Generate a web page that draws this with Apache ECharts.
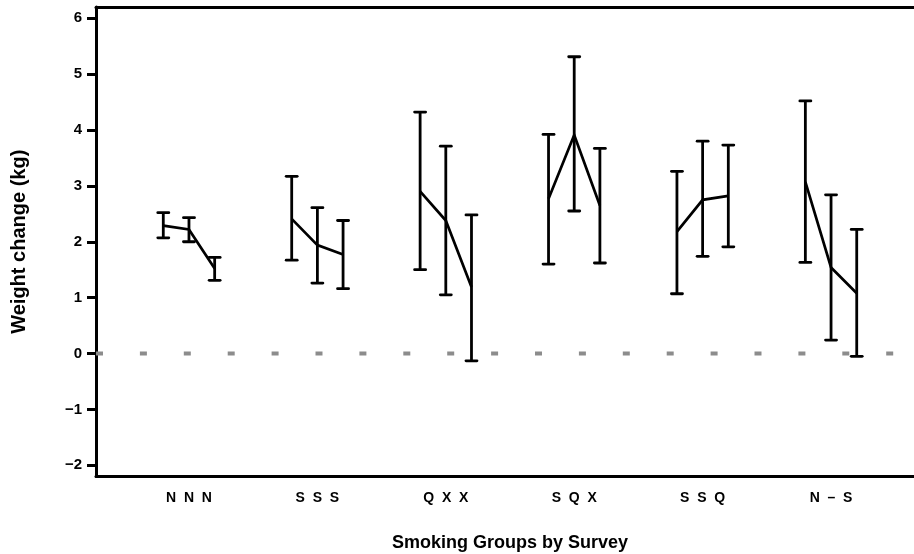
<!DOCTYPE html>
<html>
<head>
<meta charset="utf-8">
<title>Weight change by smoking group</title>
<script src="https://cdn.jsdelivr.net/npm/echarts@6/dist/echarts.min.js"></script>
<style>
  html, body { margin: 0; padding: 0; background: #ffffff; }
  #chart { width: 914px; height: 554px; }
</style>
</head>
<body>
<div id="chart"></div>
<script>
// Smoking status at the three surveys (N = never, S = smoker, Q = quit, X = ex-smoker)
const groupLabels = ['N N N', 'S S S', 'Q X X', 'S Q X', 'S S Q', 'N \u2013 S'];

// Mean weight change (kg) at each of the three surveys per group
const meanChange = [
  [2.29, 2.22, 1.52],
  [2.41, 1.94, 1.77],
  [2.90, 2.38, 1.19],
  [2.77, 3.91, 2.65],
  [2.18, 2.75, 2.82],
  [3.07, 1.54, 1.08]
];

// Lower and upper 95% confidence limits
const lowerCI = [
  [2.07, 2.00, 1.31],
  [1.67, 1.26, 1.16],
  [1.50, 1.05, -0.13],
  [1.60, 2.55, 1.62],
  [1.07, 1.74, 1.91],
  [1.63, 0.24, -0.05]
];
const upperCI = [
  [2.52, 2.43, 1.72],
  [3.17, 2.61, 2.38],
  [4.32, 3.71, 2.48],
  [3.92, 5.31, 3.67],
  [3.26, 3.80, 3.73],
  [4.52, 2.84, 2.22]
];

const yTicks = [-2, -1, 0, 1, 2, 3, 4, 5, 6];
const groupPositions = [1, 2, 3, 4, 5, 6];

// horizontal spacing of the three surveys inside a group (x-axis units)
const SURVEY_STEP = 0.2;
const X_MIN = 0.276, X_MAX = 6.646;
const FONT = 'Liberation Sans, Arial, Helvetica, sans-serif';

// one data row per group: [position, means..., lows..., highs...]
const groupRows = groupPositions.map((p, g) =>
  [p].concat(meanChange[g], lowerCI[g], upperCI[g])
);

function renderGroup(params, api) {
  const pos = api.value(0);
  const children = [];
  const meanPts = [];
  const capHalf = 5.5;
  const stroke = { stroke: '#000', lineWidth: 2.8, lineCap: 'round' };
  for (let j = 0; j < 3; j++) {
    const x = pos + (j - 1) * SURVEY_STEP;
    const m = api.coord([x, api.value(1 + j)]);
    const lo = api.coord([x, api.value(4 + j)]);
    const hi = api.coord([x, api.value(7 + j)]);
    meanPts.push(m);
    children.push({ type: 'line', shape: { x1: lo[0], y1: lo[1], x2: hi[0], y2: hi[1] }, style: { stroke: '#000', lineWidth: 2.8 } });
    children.push({ type: 'line', shape: { x1: lo[0] - capHalf, y1: lo[1], x2: lo[0] + capHalf, y2: lo[1] }, style: stroke });
    children.push({ type: 'line', shape: { x1: hi[0] - capHalf, y1: hi[1], x2: hi[0] + capHalf, y2: hi[1] }, style: stroke });
  }
  children.push({ type: 'polyline', shape: { points: meanPts }, style: { stroke: '#000', lineWidth: 2.7, fill: null, lineJoin: 'miter' } });
  return { type: 'group', children: children };
}

const chart = echarts.init(document.getElementById('chart'), null, { renderer: 'canvas' });

chart.setOption({
  animation: false,
  backgroundColor: '#ffffff',
  grid: { left: 96, right: 0, top: 7, bottom: 77.5, containLabel: false },
  title: {
    text: 'Smoking Groups by Survey',
    left: 505,
    top: 529,
    textAlign: 'center',
    textStyle: { fontFamily: FONT, fontSize: 18, fontWeight: 'bold', color: '#000' }
  },
  xAxis: [
    {
      type: 'value',
      position: 'bottom',
      min: X_MIN,
      max: X_MAX,
      axisLine: { show: true, onZero: false, lineStyle: { color: '#000', width: 3 } },
      axisTick: { show: false },
      splitLine: { show: false },
      axisLabel: {
        customValues: groupPositions,
        // survey letters are set apart with wide gaps
        formatter: v => groupLabels[Math.round(v) - 1].split(' ').join('  '),
        margin: 15,
        fontFamily: FONT,
        fontSize: 14,
        fontWeight: 'bold',
        color: '#000'
      }
    },
    {
      type: 'value',
      position: 'top',
      min: X_MIN,
      max: X_MAX,
      axisLine: { show: true, onZero: false, lineStyle: { color: '#000', width: 3 } },
      axisTick: { show: false },
      axisLabel: { show: false },
      splitLine: { show: false }
    }
  ],
  yAxis: {
    type: 'value',
    min: -2.2,
    max: 6.2,
    name: 'Weight change (kg)',
    nameLocation: 'middle',
    nameGap: 67,
    nameTextStyle: { fontFamily: FONT, fontSize: 20, fontWeight: 'bold', color: '#000' },
    axisLine: { show: true, onZero: false, lineStyle: { color: '#000', width: 3 } },
    axisTick: { show: true, customValues: yTicks, length: 9, lineStyle: { color: '#000', width: 3 } },
    splitLine: { show: false },
    axisLabel: {
      customValues: yTicks,
      formatter: v => (v < 0 ? '\u2212' + Math.abs(v) : String(v)),
      margin: 14,
      fontFamily: FONT,
      fontSize: 15,
      fontWeight: 'bold',
      color: '#000'
    }
  },
  series: [
    {
      type: 'line',
      name: 'zero',
      silent: true,
      symbol: 'none',
      data: [[X_MIN, 0], [X_MAX, 0]],
      lineStyle: { color: '#8c8c8c', width: 4, type: [7, 36.9], cap: 'butt' },
      z: 1
    },
    {
      type: 'custom',
      name: 'weight change',
      data: groupRows,
      renderItem: renderGroup,
      encode: { x: 0, y: [1, 2, 3, 4, 5, 6, 7, 8, 9] },
      z: 3
    }
  ]
});
</script>
</body>
</html>
